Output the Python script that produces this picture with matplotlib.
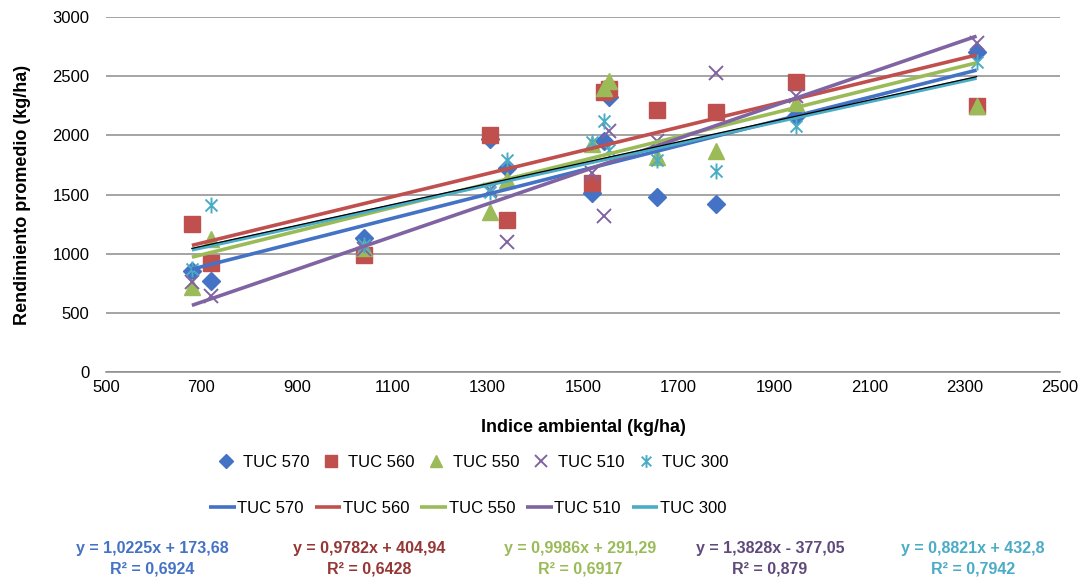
import numpy as np
import matplotlib
matplotlib.use("Agg")
import matplotlib.pyplot as plt
from matplotlib.path import Path

plt.rcParams['font.family'] = ['Liberation Sans', 'DejaVu Sans']

# Environmental index (kg/ha)
env_index = [680, 720, 1041, 1305, 1341, 1519, 1545, 1555, 1655, 1779, 1947, 2325]

# Mean yield per cultivar (kg/ha)
tuc570 = [850, 770, 1130, 1970, 1720, 1510, 1950, 2320, 1480, 1420, 2160, 2700]
tuc560 = [1250, 920, 990, 2000, 1285, 1600, 2370, 2390, 2210, 2200, 2450, 2250]
tuc550 = [720, 1120, 1050, 1355, 1620, 1930, 2400, 2460, 1820, 1870, 2270, 2250]
tuc510 = [760, 640, 1040, 1540, 1100, 1680, 1320, 2040, 1950, 2530, 2330, 2780]
tuc300 = [870, 1410, 1070, 1525, 1790, 1940, 2120, 1880, 1790, 1700, 2080, 2620]

names = ["TUC 570", "TUC 560", "TUC 550", "TUC 510", "TUC 300"]
slopes = [1.0225, 0.9782, 0.9986, 1.3828, 0.8821]
intercepts = [173.68, 404.94, 291.29, -377.05, 432.8]
r2 = ["0,6924", "0,6428", "0,6917", "0,879", "0,7942"]
eq_text = ["y = 1,0225x + 173,68", "y = 0,9782x + 404,94", "y = 0,9986x + 291,29",
           "y = 1,3828x - 377,05", "y = 0,8821x + 432,8"]

colors = ['#4472C4', '#C0504D', '#9BBB59', '#8064A2', '#4BACC6']
eq_colors = ['#4472C4', '#953735', '#9BBB59', '#604A7B', '#4BACC6']

# asterisk marker like Excel's "star"
star = Path([(0, -1), (0, 1), (-0.75, -0.75), (0.75, 0.75), (-0.75, 0.75), (0.75, -0.75)],
            [Path.MOVETO, Path.LINETO, Path.MOVETO, Path.LINETO, Path.MOVETO, Path.LINETO])
markers = ['D', 's', '^', 'x', star]
msizes = [9.5, 11, 11, 10.5, 11.5]

fig = plt.figure(figsize=(10.83, 5.88), dpi=100)
ax = fig.add_axes([0.0979, 0.3673, 0.8809, 0.6038])

series = [tuc570, tuc560, tuc550, tuc510, tuc300]
x = np.array(env_index, dtype=float)

scatter_handles = []
for ys, c, m, ms in zip(series, colors, markers, msizes):
    if m in ('D', 's', '^'):
        h, = ax.plot(x, ys, linestyle='none', marker=m, markersize=ms,
                     markerfacecolor=c, markeredgecolor=c, zorder=3)
    else:
        h, = ax.plot(x, ys, linestyle='none', marker=m, markersize=ms,
                     markeredgecolor=c, markeredgewidth=1.4, zorder=3)
    scatter_handles.append(h)

# trend lines from the fitted equations
xl = np.array([x.min(), x.max()])
line_handles = []
for i, (a, b, c) in enumerate(zip(slopes, intercepts, colors)):
    h, = ax.plot(xl, a * xl + b, color=c, linewidth=2.6, zorder=4,
                 solid_capstyle='butt')
    line_handles.append(h)
    if i == 4:
        ax.plot(xl, a * xl + b + 12, color='black', linewidth=0.9, zorder=5)

ax.set_xlim(500, 2500)
ax.set_ylim(0, 3000)
ax.set_xticks(np.arange(500, 2501, 200))
ax.set_yticks(np.arange(0, 3001, 500))
ax.tick_params(axis='y', length=0, labelsize=12, pad=12)
ax.tick_params(axis='x', length=0, labelsize=12, pad=6)
ax.yaxis.grid(True, color='#8C8C8C', linewidth=1.1)
ax.set_axisbelow(True)
for s in ['top', 'right', 'left']:
    ax.spines[s].set_visible(False)
ax.spines['bottom'].set_color('#8C8C8C')
ax.spines['bottom'].set_linewidth(1.1)

ax.set_xlabel('Indice ambiental (kg/ha)', fontsize=13, fontweight='bold', labelpad=17)
ax.set_ylabel('Rendimiento promedio (kg/ha)', fontsize=13, fontweight='bold', labelpad=15)

# legends
fig.legend(scatter_handles, names, loc='center', bbox_to_anchor=(0.438, 0.213),
           ncol=5, frameon=False, fontsize=12, handlelength=0.8,
           handletextpad=0.6, columnspacing=0.9, markerscale=0.8)
fig.legend(line_handles, names, loc='center', bbox_to_anchor=(0.432, 0.136),
           ncol=5, frameon=False, fontsize=12, handlelength=1.6,
           handletextpad=0.1, columnspacing=0.65)

# equations
eq_x = [152, 369, 580, 770, 973]
for xp, t, r, c in zip(eq_x, eq_text, r2, eq_colors):
    fig.text(xp / 1083, 1 - 548 / 588, t, color=c, fontsize=11.5, fontweight='bold',
             ha='center', va='center')
    fig.text(xp / 1083, 1 - 569 / 588, 'R² = ' + r, color=c, fontsize=11.5,
             fontweight='bold', ha='center', va='center')

fig.savefig('out.png', dpi=100, facecolor='white')
